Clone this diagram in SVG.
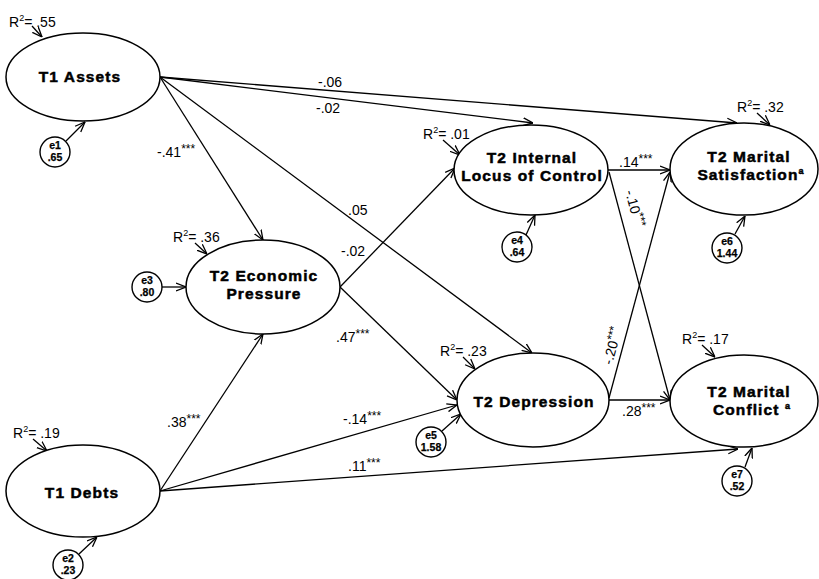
<svg xmlns="http://www.w3.org/2000/svg" width="819" height="579" viewBox="0 0 819 579">
<style>
.node ellipse{fill:#fff;stroke:#000;stroke-width:1.5}
.err circle{fill:#fff;stroke:#000;stroke-width:1.4}
.nl{font-family:"Liberation Sans",Arial,sans-serif;font-weight:bold;font-size:15.5px;letter-spacing:1.1px;text-anchor:middle;fill:#000;stroke:#000;stroke-width:0.5}
.el{font-family:"Liberation Sans",Arial,sans-serif;font-weight:bold;font-size:10.5px;text-anchor:middle;fill:#000;stroke:#000;stroke-width:0.25}
.lb{font-family:"Liberation Sans",Arial,sans-serif;font-size:14px;fill:#000}
.st{font-size:12px}
.sup{font-size:9px}
.conn line{stroke:#000;stroke-width:1.3;fill:none;marker-end:url(#arr)}
</style>
<defs>
<marker id="arr" viewBox="0 0 10 10" refX="10" refY="5" markerWidth="10" markerHeight="10" markerUnits="userSpaceOnUse" orient="auto">
<path d="M0,1 L10,5 L0,9" fill="none" stroke="#000" stroke-width="1.3"/>
</marker>
</defs>
<rect width="819" height="579" fill="#fff"/>

<g id="connectors" class="conn">
<line x1="160" y1="77" x2="263" y2="240"/>
<line x1="160" y1="77" x2="533" y2="123"/>
<line x1="160" y1="77" x2="532" y2="353"/>
<line x1="160" y1="77" x2="737" y2="123"/>
<line x1="340" y1="287" x2="455" y2="168"/>
<line x1="340" y1="287" x2="457" y2="400"/>
<line x1="160" y1="491" x2="263" y2="334"/>
<line x1="160" y1="491" x2="457" y2="405"/>
<line x1="160" y1="491" x2="738" y2="449"/>
<line x1="608" y1="170" x2="670" y2="170"/>
<line x1="609" y1="172" x2="670" y2="400"/>
<line x1="609" y1="398" x2="670" y2="172"/>
<line x1="609" y1="400" x2="670" y2="400"/>
<!-- error arrows -->
<line x1="66" y1="141" x2="85" y2="122"/>
<line x1="79" y1="554" x2="97" y2="537"/>
<line x1="162" y1="287" x2="186" y2="287"/>
<line x1="526" y1="235" x2="535" y2="215"/>
<line x1="442" y1="431" x2="461" y2="414"/>
<line x1="735" y1="234" x2="745" y2="216"/>
<line x1="745" y1="467" x2="752" y2="448"/>
<!-- R2 arrows -->
<line x1="32" y1="26" x2="42" y2="37"/>
<line x1="195" y1="243" x2="207" y2="254"/>
<line x1="443" y1="140" x2="460" y2="155"/>
<line x1="757" y1="113" x2="770" y2="125"/>
<line x1="463" y1="357" x2="475" y2="369"/>
<line x1="33" y1="439" x2="47" y2="451"/>
<line x1="702" y1="345" x2="715" y2="357"/>
</g>

<g id="path-labels" class="lb">
<text x="157" y="157">-.41<tspan class="st" dy="-4">***</tspan></text>
<text x="318" y="87">-.06</text>
<text x="316" y="113">-.02</text>
<text x="348" y="215">.05</text>
<text x="341" y="256">-.02</text>
<text x="336" y="342">.47<tspan class="st" dy="-4">***</tspan></text>
<text x="167" y="427">.38<tspan class="st" dy="-4">***</tspan></text>
<text x="343" y="424">-.14<tspan class="st" dy="-4">***</tspan></text>
<text x="348" y="471">.11<tspan class="st" dy="-4">***</tspan></text>
<text x="619" y="167">.14<tspan class="st" dy="-4">***</tspan></text>
<text x="622" y="416">.28<tspan class="st" dy="-4">***</tspan></text>
<text x="0" y="0" text-anchor="middle" transform="translate(630,210) rotate(75)">-.10<tspan class="st" dy="-4">***</tspan></text>
<text x="0" y="0" text-anchor="middle" transform="translate(617,347) rotate(-75)">-.20<tspan class="st" dy="-4">***</tspan></text>
</g>

<g id="r2-labels" class="lb">
<text x="9" y="27">R<tspan class="sup" dy="-6">2</tspan><tspan dy="6">= .55</tspan></text>
<text x="173" y="242">R<tspan class="sup" dy="-6">2</tspan><tspan dy="6">= .36</tspan></text>
<text x="423" y="139">R<tspan class="sup" dy="-6">2</tspan><tspan dy="6">= .01</tspan></text>
<text x="737" y="112">R<tspan class="sup" dy="-6">2</tspan><tspan dy="6">= .32</tspan></text>
<text x="440" y="356">R<tspan class="sup" dy="-6">2</tspan><tspan dy="6">= .23</tspan></text>
<text x="13" y="438">R<tspan class="sup" dy="-6">2</tspan><tspan dy="6">= .19</tspan></text>
<text x="682" y="344">R<tspan class="sup" dy="-6">2</tspan><tspan dy="6">= .17</tspan></text>
</g>

<g id="t1-assets" class="node">
<ellipse cx="83" cy="77" rx="77" ry="44"/>
<text class="nl" x="80" y="82">T1 Assets</text>
</g>
<g id="t1-debts" class="node">
<ellipse cx="83" cy="491" rx="77" ry="46"/>
<text class="nl" x="82" y="498">T1 Debts</text>
</g>
<g id="t2-economic-pressure" class="node">
<ellipse cx="263" cy="287" rx="77" ry="47"/>
<text class="nl" x="264" y="281">T2 Economic</text>
<text class="nl" x="264" y="299">Pressure</text>
</g>
<g id="t2-internal-locus" class="node">
<ellipse cx="531" cy="170" rx="77" ry="45"/>
<text class="nl" x="532" y="163">T2 Internal</text>
<text class="nl" x="532" y="181">Locus of Control</text>
</g>
<g id="t2-depression" class="node">
<ellipse cx="533" cy="400" rx="76" ry="47"/>
<text class="nl" x="534" y="407">T2 Depression</text>
</g>
<g id="t2-marital-satisfaction" class="node">
<ellipse cx="744" cy="169" rx="74" ry="46"/>
<text class="nl" x="749" y="162">T2 Marital</text>
<text class="nl" x="751" y="180">Satisfaction<tspan class="sup" dy="-6">a</tspan></text>
</g>
<g id="t2-marital-conflict" class="node">
<ellipse cx="744" cy="401" rx="74" ry="46"/>
<text class="nl" x="749" y="397">T2 Marital</text>
<text class="nl" x="752" y="415">Conflict <tspan class="sup" dy="-6">a</tspan></text>
</g>

<g id="e1" class="err"><circle cx="55" cy="152" r="15"/><text class="el" x="55" y="149">e1</text><text class="el" x="55" y="161">.65</text></g>
<g id="e2" class="err"><circle cx="68" cy="565" r="15"/><text class="el" x="68" y="562">e2</text><text class="el" x="68" y="574">.23</text></g>
<g id="e3" class="err"><circle cx="147" cy="287" r="15"/><text class="el" x="147" y="284">e3</text><text class="el" x="147" y="296">.80</text></g>
<g id="e4" class="err"><circle cx="517" cy="247" r="15"/><text class="el" x="517" y="244">e4</text><text class="el" x="517" y="256">.64</text></g>
<g id="e5" class="err"><circle cx="431" cy="442" r="15"/><text class="el" x="431" y="439">e5</text><text class="el" x="431" y="451">1.58</text></g>
<g id="e6" class="err"><circle cx="727" cy="248" r="15"/><text class="el" x="727" y="245">e6</text><text class="el" x="727" y="257">1.44</text></g>
<g id="e7" class="err"><circle cx="737" cy="481" r="15"/><text class="el" x="737" y="478">e7</text><text class="el" x="737" y="490">.52</text></g>
</svg>
